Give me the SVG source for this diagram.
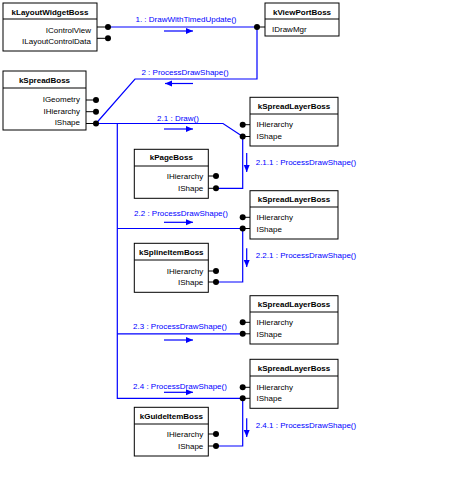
<svg xmlns="http://www.w3.org/2000/svg" width="462" height="478" viewBox="0 0 462 478">
<style>
text{font-family:"Liberation Sans",Arial,sans-serif;font-size:8px;fill:#000}
.t{font-weight:bold;text-anchor:middle}
.r{text-anchor:end}
.lb{fill:#0000ff}
.m{text-anchor:middle}
.box{fill:#fff;stroke:#000;stroke-width:1}
.dv{stroke:#000;stroke-width:1}
.stub{stroke:#000;stroke-width:1}
.dot{fill:#000}
.c{fill:none;stroke:#0000ff;stroke-width:1.2}
.a{stroke:#0000ff;stroke-width:1.2}
.ah{fill:#0000ff}
</style>
<rect width="462" height="478" fill="#fff"/>

<g id="connectors">
<path class="c" d="M108,27 H257"/>
<path class="c" d="M257,27 V79 H135 L96,123.5"/>
<path class="c" d="M96,123.5 H223 L242.7,136.5"/>
<path class="c" d="M117.3,123.5 V398.3 H242.7"/>
<path class="c" d="M117.3,228.5 H242.7"/>
<path class="c" d="M117.3,333.8 H242.7"/>
<path class="c" d="M242.7,136.5 V188.3 H216"/>
<path class="c" d="M242.7,228.5 V282 H216"/>
<path class="c" d="M242.7,398.3 V446 H216"/>
</g>

<g id="labels">
<text class="lb m" x="186" y="22">1. : DrawWithTimedUpdate()</text>
<line class="a" x1="164" y1="31" x2="193" y2="31"/><polygon class="ah" points="186,28 193,31 186,34"/>
<text class="lb m" x="185" y="75">2 : ProcessDrawShape()</text>
<line class="a" x1="165" y1="83.5" x2="193" y2="83.5"/><polygon class="ah" points="172,80.5 165,83.5 172,86.5"/>
<text class="lb m" x="178" y="121">2.1 : Draw()</text>
<line class="a" x1="164" y1="129" x2="193" y2="129"/><polygon class="ah" points="186,126 193,129 186,132"/>
<text class="lb" x="255.7" y="164.5">2.1.1 : ProcessDrawShape()</text>
<line class="a" x1="246.7" y1="153" x2="246.7" y2="172"/><polygon class="ah" points="243.7,165 246.7,172 249.7,165"/>
<text class="lb m" x="181" y="216">2.2 : ProcessDrawShape()</text>
<line class="a" x1="164" y1="222.3" x2="193" y2="222.3"/><polygon class="ah" points="186,219.3 193,222.3 186,225.3"/>
<text class="lb" x="255.7" y="258">2.2.1 : ProcessDrawShape()</text>
<line class="a" x1="246.7" y1="248.3" x2="246.7" y2="267"/><polygon class="ah" points="243.7,260 246.7,267 249.7,260"/>
<text class="lb m" x="180" y="328.5">2.3 : ProcessDrawShape()</text>
<line class="a" x1="164" y1="340" x2="193" y2="340"/><polygon class="ah" points="186,337 193,340 186,343"/>
<text class="lb m" x="180" y="388.5">2.4 : ProcessDrawShape()</text>
<line class="a" x1="164" y1="392.3" x2="193" y2="392.3"/><polygon class="ah" points="186,389.3 193,392.3 186,395.3"/>
<text class="lb" x="255.7" y="428">2.4.1 : ProcessDrawShape()</text>
<line class="a" x1="246.7" y1="418.3" x2="246.7" y2="437"/><polygon class="ah" points="243.7,430 246.7,437 249.7,430"/>
</g>

<g id="kLayoutWidgetBoss">
<rect class="box" x="3" y="3" width="94" height="48"/>
<line class="dv" x1="3" y1="19" x2="97" y2="19"/>
<text class="t" x="50" y="15">kLayoutWidgetBoss</text>
<text class="r" x="91" y="33">IControlView</text>
<text class="r" x="91" y="44">ILayoutControlData</text>
<line class="stub" x1="97" y1="27" x2="108" y2="27"/><circle class="dot" cx="108" cy="27" r="3"/>
<line class="stub" x1="97" y1="38.3" x2="108" y2="38.3"/><circle class="dot" cx="108" cy="38.3" r="3"/>
</g>

<g id="kViewPortBoss">
<rect class="box" x="265" y="3" width="74" height="33"/>
<line class="dv" x1="265" y1="19" x2="339" y2="19"/>
<text class="t" x="302" y="15">kViewPortBoss</text>
<text x="272" y="31.5">IDrawMgr</text>
<line class="stub" x1="257" y1="27" x2="265" y2="27"/><circle class="dot" cx="257" cy="27" r="3"/>
</g>

<g id="kSpreadBoss">
<rect class="box" x="3" y="71" width="83" height="59"/>
<line class="dv" x1="3" y1="88" x2="86" y2="88"/>
<text class="t" x="44.5" y="83">kSpreadBoss</text>
<text class="r" x="80" y="102">IGeometry</text>
<text class="r" x="80" y="113.5">IHierarchy</text>
<text class="r" x="80" y="124.5">IShape</text>
<line class="stub" x1="86" y1="100" x2="96" y2="100"/><circle class="dot" cx="96" cy="100" r="3"/>
<line class="stub" x1="86" y1="111.7" x2="96" y2="111.7"/><circle class="dot" cx="96" cy="111.7" r="3"/>
<line class="stub" x1="86" y1="123.5" x2="96" y2="123.5"/><circle class="dot" cx="96" cy="123.5" r="3"/>
</g>

<g id="kSpreadLayerBoss1">
<rect class="box" x="250" y="97.3" width="88" height="48.7"/>
<line class="dv" x1="250" y1="114" x2="338" y2="114"/>
<text class="t" x="294" y="109">kSpreadLayerBoss</text>
<text x="256.5" y="127.3">IHierarchy</text>
<text x="256.5" y="139">IShape</text>
<line class="stub" x1="242.7" y1="124.7" x2="250" y2="124.7"/><circle class="dot" cx="242.7" cy="124.7" r="3"/>
<line class="stub" x1="242.7" y1="136.5" x2="250" y2="136.5"/><circle class="dot" cx="242.7" cy="136.5" r="3"/>
</g>

<g id="kPageBoss">
<rect class="box" x="134.3" y="149.3" width="74" height="49"/>
<line class="dv" x1="134.3" y1="166" x2="208.3" y2="166"/>
<text class="t" x="171.3" y="160">kPageBoss</text>
<text class="r" x="203.3" y="179">IHierarchy</text>
<text class="r" x="203.3" y="191.3">IShape</text>
<line class="stub" x1="208.3" y1="176" x2="216" y2="176"/><circle class="dot" cx="216" cy="176" r="3"/>
<line class="stub" x1="208.3" y1="188.3" x2="216" y2="188.3"/><circle class="dot" cx="216" cy="188.3" r="3"/>
</g>

<g id="kSpreadLayerBoss2">
<rect class="box" x="250" y="190.7" width="88" height="48.3"/>
<line class="dv" x1="250" y1="207" x2="338" y2="207"/>
<text class="t" x="294" y="202">kSpreadLayerBoss</text>
<text x="256.5" y="220.3">IHierarchy</text>
<text x="256.5" y="231.7">IShape</text>
<line class="stub" x1="242.7" y1="217.3" x2="250" y2="217.3"/><circle class="dot" cx="242.7" cy="217.3" r="3"/>
<line class="stub" x1="242.7" y1="228.5" x2="250" y2="228.5"/><circle class="dot" cx="242.7" cy="228.5" r="3"/>
</g>

<g id="kSplineItemBoss">
<rect class="box" x="134.3" y="243.3" width="74" height="49"/>
<line class="dv" x1="134.3" y1="260" x2="208.3" y2="260"/>
<text class="t" x="171.3" y="254.5">kSplineItemBoss</text>
<text class="r" x="203.3" y="274">IHierarchy</text>
<text class="r" x="203.3" y="285">IShape</text>
<line class="stub" x1="208.3" y1="271" x2="216" y2="271"/><circle class="dot" cx="216" cy="271" r="3"/>
<line class="stub" x1="208.3" y1="282" x2="216" y2="282"/><circle class="dot" cx="216" cy="282" r="3"/>
</g>

<g id="kSpreadLayerBoss3">
<rect class="box" x="250" y="295.7" width="88" height="48.3"/>
<line class="dv" x1="250" y1="312" x2="338" y2="312"/>
<text class="t" x="294" y="307">kSpreadLayerBoss</text>
<text x="256.5" y="325.3">IHierarchy</text>
<text x="256.5" y="336.7">IShape</text>
<line class="stub" x1="242.7" y1="322.3" x2="250" y2="322.3"/><circle class="dot" cx="242.7" cy="322.3" r="3"/>
<line class="stub" x1="242.7" y1="333.8" x2="250" y2="333.8"/><circle class="dot" cx="242.7" cy="333.8" r="3"/>
</g>

<g id="kSpreadLayerBoss4">
<rect class="box" x="250" y="359.3" width="88" height="49"/>
<line class="dv" x1="250" y1="376" x2="338" y2="376"/>
<text class="t" x="294" y="371.3">kSpreadLayerBoss</text>
<text x="256.5" y="390.3">IHierarchy</text>
<text x="256.5" y="401.3">IShape</text>
<line class="stub" x1="242.7" y1="387.3" x2="250" y2="387.3"/><circle class="dot" cx="242.7" cy="387.3" r="3"/>
<line class="stub" x1="242.7" y1="398.3" x2="250" y2="398.3"/><circle class="dot" cx="242.7" cy="398.3" r="3"/>
</g>

<g id="kGuideItemBoss">
<rect class="box" x="134.3" y="407.3" width="74" height="48.7"/>
<line class="dv" x1="134.3" y1="424" x2="208.3" y2="424"/>
<text class="t" x="171.3" y="418.7">kGuideItemBoss</text>
<text class="r" x="203.3" y="437">IHierarchy</text>
<text class="r" x="203.3" y="448.7">IShape</text>
<line class="stub" x1="208.3" y1="434" x2="216" y2="434"/><circle class="dot" cx="216" cy="434" r="3"/>
<line class="stub" x1="208.3" y1="446" x2="216" y2="446"/><circle class="dot" cx="216" cy="446" r="3"/>
</g>
</svg>
